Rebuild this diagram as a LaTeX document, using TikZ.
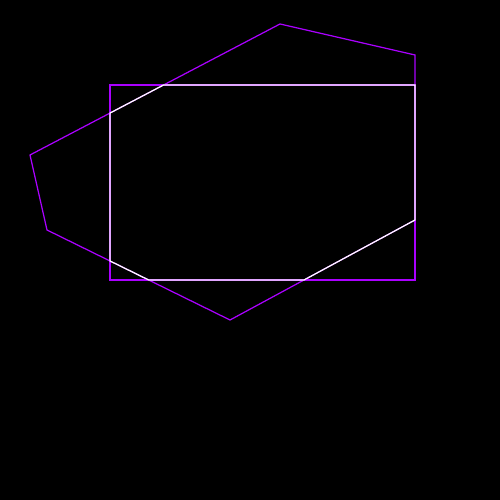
\documentclass[tikz,border=0pt]{standalone}
\usepackage{tikz}
\usepackage{xcolor}

\definecolor{violetline}{RGB}{170,0,255}

\begin{document}
\begin{tikzpicture}[line width=0.35pt]
        % Background
        \fill[black] (0,0) rectangle (5,5);
        \useasboundingbox (0,0) rectangle (5,5);

        % Polygon vertices
        \coordinate (a) at (2.80,4.76);
        \coordinate (b) at (4.15,4.45);
        \coordinate (c) at (4.15,2.80);
        \coordinate (d) at (2.30,1.80);
        \coordinate (e) at (0.47,2.70);
        \coordinate (f) at (0.30,3.45);

        % Rectangle corners
        \coordinate (tl) at (1.10,4.15);
        \coordinate (tr) at (4.15,4.15);
        \coordinate (br) at (4.15,2.20);
        \coordinate (bl) at (1.10,2.20);

        % Outlines
        \draw[violetline] (tl)--(tr)--(br)--(bl)--cycle;
        \draw[violetline] (a)--(b)--(c)--(d)--(e)--(f)--cycle;

        % Clipped region
        \coordinate (p) at (intersection of f--a and tl--bl);
        \coordinate (q) at (intersection of f--a and tl--tr);
        \coordinate (r) at (intersection of c--d and bl--br);
        \coordinate (s) at (intersection of d--e and bl--br);
        \coordinate (t) at (intersection of d--e and tl--bl);
        \draw[white] (p)--(q)--(tr)--(c)--(r)--(s)--(t)--cycle;
    \end{tikzpicture}
\end{document}
